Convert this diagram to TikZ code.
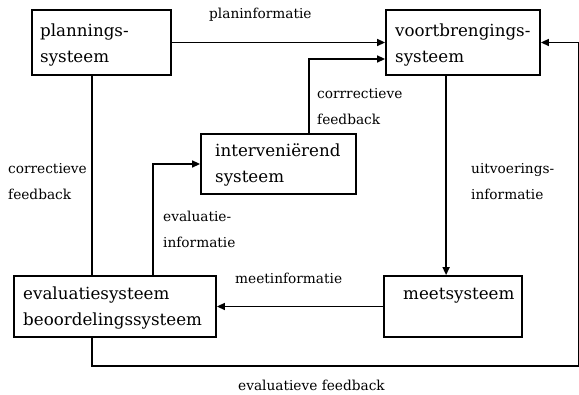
\documentclass[tikz,border=0pt]{standalone}
\usepackage{fontspec}
\setmainfont{DejaVu Serif}
\usetikzlibrary{arrows.meta,calc}
\begin{document}
\begin{tikzpicture}[x=1pt,y=-1pt,
  box/.style={draw,line width=1.8pt,inner sep=0pt},
  boxtext/.style={anchor=base west,inner sep=0pt,align=left,
    font=\fontsize{16.7}{26}\selectfont},
  lbl/.style={anchor=base west,inner sep=0pt,align=left,
    font=\fontsize{13.7}{26.5}\selectfont},
  link/.style={line width=1.5pt},
  arr/.style={link,-{Triangle[length=8pt,width=7pt]}}]
\useasboundingbox (0,0) rectangle (579,395);

% systems
\node[box,minimum width=139pt,minimum height=65pt] (plan)   at (101.5,42.5) {};
\node[box,minimum width=154pt,minimum height=65pt] (voort)  at (463,42.5) {};
\node[box,minimum width=155pt,minimum height=60pt] (interv) at (278.5,164) {};
\node[box,minimum width=202pt,minimum height=61pt] (eval)   at (115,306.5) {};
\node[box,minimum width=138pt,minimum height=61pt] (meet)   at (453,306.5) {};

% names of the systems (base = last line)
\node[boxtext] (plant)   at (40,63)   {plannings-\\systeem};
\node[boxtext] (voortt)  at (395,63)  {voortbrengings-\\systeem};
\node[boxtext] (intervt) at (215,183) {interveniërend\\systeem};
\node[boxtext] (evalt)   at (23,326)  {evaluatiesysteem\\beoordelingssysteem};
\node[boxtext] (meett)   at (403,300) {meetsysteem};

% flows
\coordinate (rc) at (578.5,366);
\draw[arr] (plan.east) -- (voort.west);
\draw[arr] ($(interv.north west)+(109,0)$) |- ($(voort.west)+(0,16.5)$);
\draw[arr] ($(voort.south west)+(61,0)$) -- ($(meet.north west)+(63,0)$);
\draw[arr] (meet.west) -- (eval.east);
\draw[arr] ($(eval.north west)+(140,0)$) |- (interv.west);
\draw[link] ($(plan.south west)+(61,0)$) -- ($(eval.north west)+(79,0)$);
\draw[arr] ($(eval.south west)+(79,0)$) |- (rc) |- (voort.east);

% flow labels (base = last line)
\node[lbl] (l1) at (209,19)  {planinformatie};
\node[lbl] (l2) at (317,125) {corrrectieve\\feedback};
\node[lbl] (l3) at (8,200)   {correctieve\\feedback};
\node[lbl] (l4) at (471,200) {uitvoerings-\\informatie};
\node[lbl] (l5) at (163,248) {evaluatie-\\informatie};
\node[lbl] (l6) at (235,284) {meetinformatie};
\node[lbl] (l7) at (238,391) {evaluatieve feedback};
\end{tikzpicture}
\end{document}
